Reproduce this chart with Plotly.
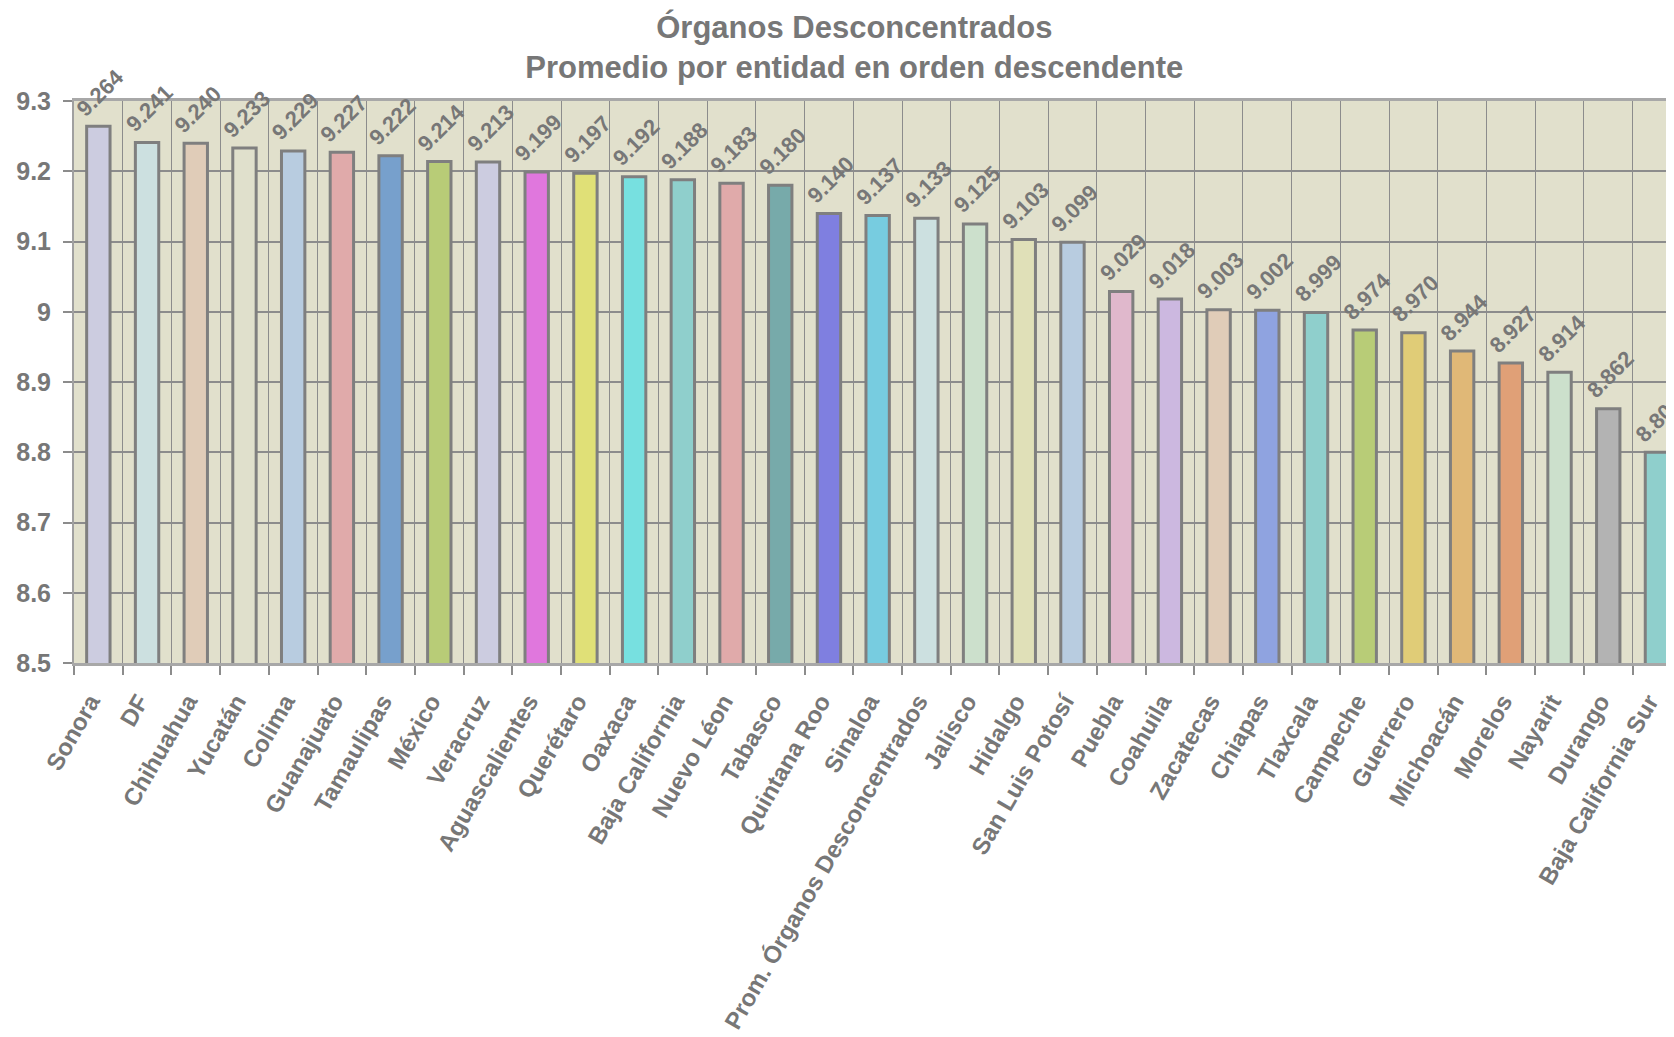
import plotly.graph_objects as go

# data
entidades = [
    "Sonora", "DF", "Chihuahua", "Yucatán", "Colima", "Guanajuato", "Tamaulipas",
    "México", "Veracruz", "Aguascalientes", "Querétaro", "Oaxaca", "Baja California",
    "Nuevo Léon", "Tabasco", "Quintana Roo", "Sinaloa", "Prom. Órganos Desconcentrados",
    "Jalisco", "Hidalgo", "San Luis Potosí", "Puebla", "Coahuila", "Zacatecas",
    "Chiapas", "Tlaxcala", "Campeche", "Guerrero", "Michoacán", "Morelos", "Nayarit",
    "Durango", "Baja California Sur",
]
promedios = [
    9.264, 9.241, 9.240, 9.233, 9.229, 9.227, 9.222, 9.214, 9.213, 9.199, 9.197,
    9.192, 9.188, 9.183, 9.180, 9.140, 9.137, 9.133, 9.125, 9.103, 9.099, 9.029,
    9.018, 9.003, 9.002, 8.999, 8.974, 8.970, 8.944, 8.927, 8.914, 8.862, 8.800,
]
colores = [
    "#CCCCE0", "#CCE0E0", "#E0CCB8", "#E0E0CC", "#B8CCE0", "#E0AAAA", "#77A0CC",
    "#B8CC77", "#CCCCE0", "#E077DD", "#E0E077", "#77E0E0", "#8FCFCC", "#E0AAAA",
    "#77AAAA", "#7F7FE0", "#77CCE0", "#CCE0E0", "#CCE0CC", "#E0E0B8", "#B8CCE0",
    "#E0B8CC", "#CCB8E0", "#E0CCB8", "#8FA3E0", "#8FCFCC", "#B8CC77", "#E0CC77",
    "#E0B877", "#E0A077", "#CCE0CC", "#B3B3B3", "#8FCFCC",
]
y_ticks = [8.5, 8.6, 8.7, 8.8, 8.9, 9.0, 9.1, 9.2, 9.3]

GRIS = "#777777"
FUENTE = "Liberation Sans, Arial, sans-serif"

# the page adds an 8px body margin, so the figure is 8px smaller than the window
W, H = 1666, 1029

fig = go.Figure()

fig.add_trace(go.Bar(
    x=entidades,
    y=promedios,
    width=0.48,
    marker=dict(color=colores, line=dict(color="#7F7F7F", width=3)),
    showlegend=False,
    hoverinfo="x+y",
))

# rotated value labels above each bar
for nombre, valor in zip(entidades, promedios):
    fig.add_annotation(
        x=nombre, y=valor, text=f"{valor:.3f}",
        showarrow=False, textangle=-45,
        xanchor="center", yanchor="middle",
        xshift=2, yshift=34,
        font=dict(family=FUENTE, size=22, color=GRIS, weight="bold"),
    )

fig.update_layout(
    width=W,
    height=H,
    paper_bgcolor="white",
    plot_bgcolor="#E1E0CC",
    margin=dict(l=66, r=0, t=93, b=374, autoexpand=False),
    title=dict(
        text="Órganos Desconcentrados<br>Promedio por entidad en orden descendente",
        x=0.508, xanchor="center", y=1 - 30 / H, yanchor="middle",
        font=dict(family=FUENTE, size=31, color=GRIS, weight="bold"),
    ),
    font=dict(family=FUENTE, color=GRIS),
)

fig.update_xaxes(
    type="category",
    range=[-0.5, 32.35],
    tickson="boundaries",
    ticks="outside", ticklen=9, tickcolor="#8C8C8C", tickwidth=1.5,
    showgrid=True, gridcolor="#8C8C8C", gridwidth=1,
    showline=True, linecolor="#A8A8A8", linewidth=3, mirror=True,
    tickangle=-60,
    ticklabelstandoff=12,
    ticklabelshift=-8,
    tickfont=dict(family=FUENTE, size=24, color=GRIS, weight="bold"),
    automargin=False,
)

fig.update_yaxes(
    range=[8.5, 9.3],
    tickvals=y_ticks,
    ticktext=[f"{t:g}" for t in y_ticks],
    ticks="outside", ticklen=9, tickcolor="#8C8C8C", tickwidth=1.5,
    showgrid=True, gridcolor="#8C8C8C", gridwidth=1.5,
    zeroline=False,
    showline=True, linecolor="#A0A0A0", linewidth=2,
    ticklabelstandoff=7,
    tickfont=dict(family=FUENTE, size=25, color=GRIS, weight="bold"),
    automargin=False,
)

fig.write_html("out.html")
